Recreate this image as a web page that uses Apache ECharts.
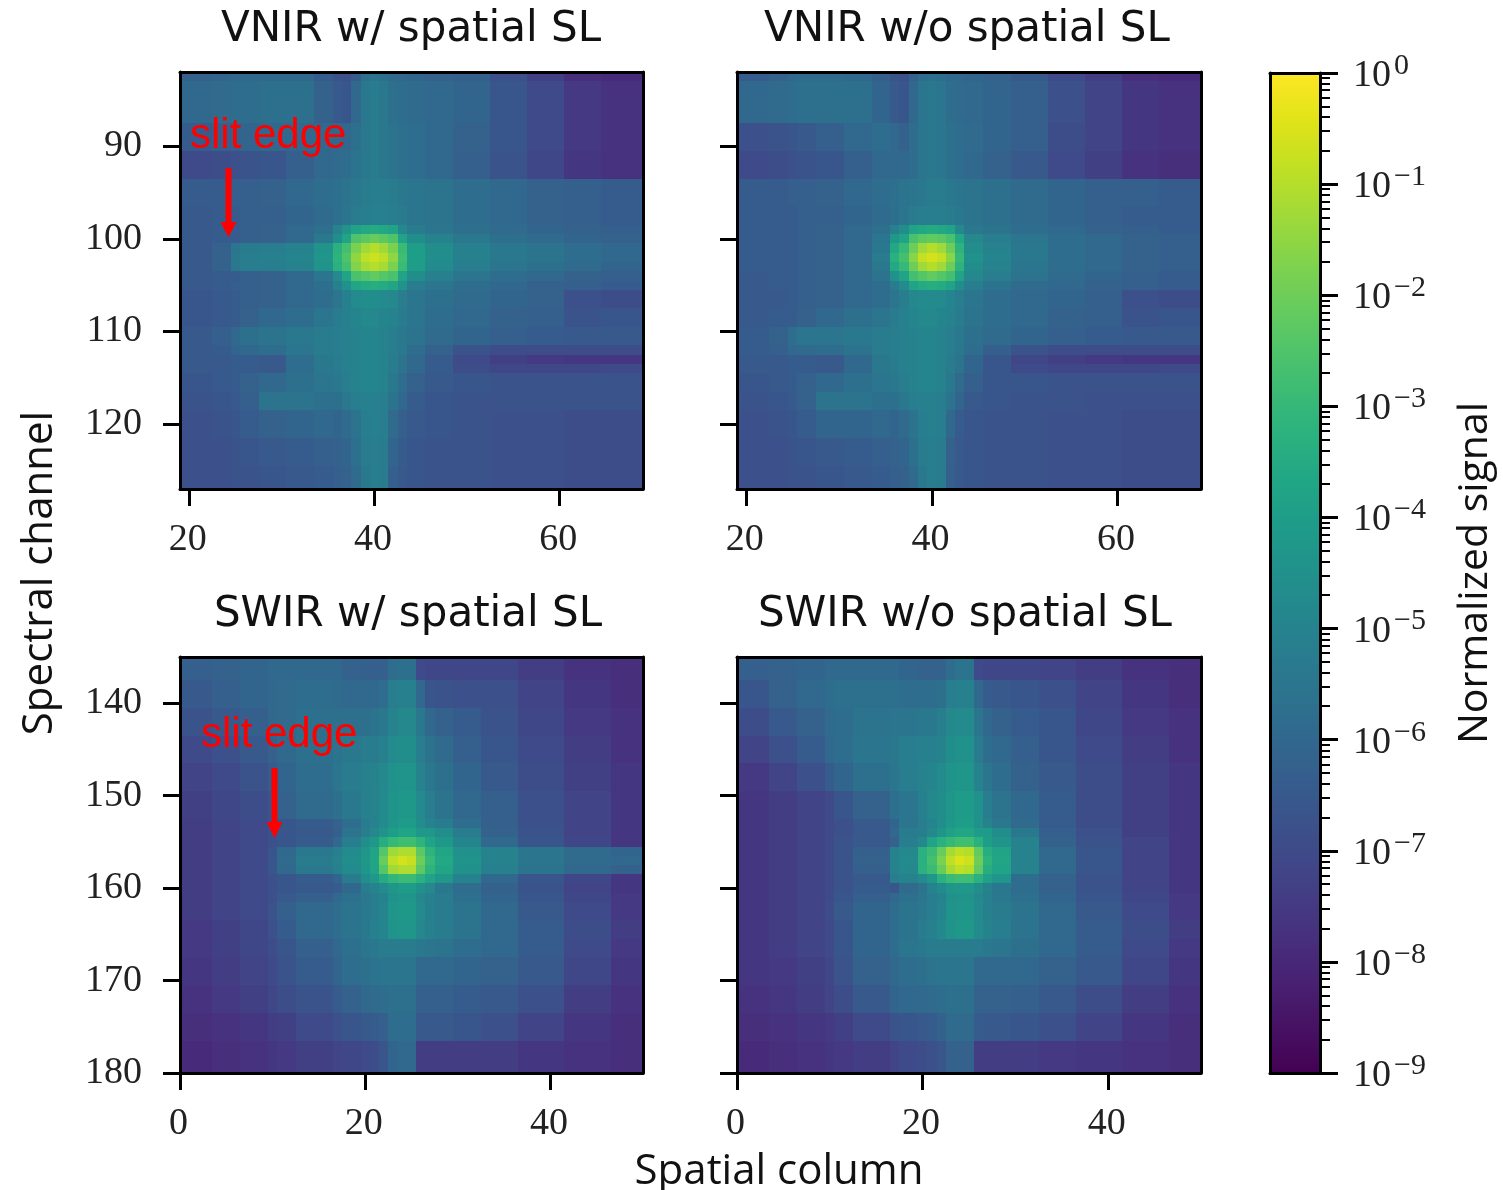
<!DOCTYPE html>
<html><head><meta charset="utf-8">
<style>html,body{margin:0;padding:0;background:#fff}#c{width:1503px;height:1190px}</style>
<script src="https://cdn.jsdelivr.net/npm/echarts@6/dist/echarts.min.js"></script>
</head><body><div id="c"></div>
<script>
// Cell values: minus ten times log10(normalized signal). Blocks span the edges below.
const vnirColEdges=[19,22.5,24.5,25.5,27.5,30.5,33.5,35.5,36.5,37.5,38.5,39.5,40.5,41.5,42.5,43.5,45.5,48.5,52.5,56.5,60.5,64.5,69];
const vnirRowEdges=[82,83,87.5,90.5,93.5,96.5,98.5,99.5,100.5,101.5,102.5,103.5,104.5,105.5,107.5,109.5,111.5,112.5,113.5,114.5,116.5,118.5,121.5,124.5,127];
const swirColEdges=[0,3.5,6.5,9.5,10.5,12.5,16.5,17.5,19.5,20.5,21.5,22.5,23.5,24.5,25.5,26.5,27.5,29.5,32.5,36.5,41.5,46.5,50];
const swirRowEdges=[135,137.5,140.5,143.5,146.5,149.5,152.5,153.5,154.5,155.5,156.5,157.5,158.5,159.5,160.5,161.5,163.5,165.5,167.5,170.5,173.5,176.5,180];

const vnirWith=[
[62,61,60,60,60,60,64,67,68,64,57,56,57,59,60,61,62,63,68,73,78,79],
[60,59,58,58,57,57,62,65,66,60,54,53,54,57,58,59,60,61,66,70,75,77],
[64,63,62,61,60,60,60,60,60,57,54,53,54,56,57,58,60,62,66,70,75,77],
[70,69,68,67,66,63,60,59,58,56,54,53,54,56,57,58,60,63,67,71,76,77],
[64,64,63,63,62,60,58,57,56,54,53,52,52,53,54,55,56,58,60,62,63,64],
[65,64,64,63,63,61,59,57,55,53,52,51,51,52,53,55,56,58,60,62,63,64],
[65,64,64,63,62,60,57,50,44,38,36,35,36,38,48,53,55,57,59,61,62,63],
[65,64,64,63,62,60,54,46,38,25,23,21,23,25,38,46,50,54,57,59,61,62],
[65,62,55,53,52,50,44,33,27,18,13,10,13,18,29,40,46,51,54,56,58,60],
[65,62,54,52,51,49,43,32,25,15,9,7,9,15,28,40,46,51,54,56,58,60],
[65,62,54,52,52,50,44,33,27,17,12,10,12,18,29,40,47,52,55,57,59,61],
[65,64,64,63,62,60,55,47,38,26,24,22,24,26,38,46,51,55,58,60,62,63],
[65,64,63,63,62,60,57,51,45,37,35,34,35,37,44,52,55,58,60,62,63,64],
[66,65,64,63,62,60,58,55,51,47,46,46,47,48,52,55,57,59,61,62,68,69],
[66,65,64,62,60,58,55,53,51,49,48,48,49,50,53,55,58,60,62,63,67,66],
[65,63,60,57,56,54,53,52,51,50,49,49,50,52,54,56,59,61,63,64,65,65],
[65,64,61,60,58,55,53,52,51,50,49,49,50,52,54,58,62,67,69,69,69,69],
[65,65,64,64,65,58,54,53,51,50,49,49,50,53,56,60,64,70,73,75,76,76],
[65,65,64,64,65,58,54,53,51,50,49,49,50,53,56,60,64,69,71,71,71,70],
[66,65,64,62,60,57,55,54,52,50,49,49,50,54,58,62,65,66,67,67,67,67],
[67,66,65,63,56,56,57,57,54,52,51,51,52,56,60,64,66,67,67,67,67,67],
[68,67,66,64,62,61,60,61,59,56,52,51,52,59,63,65,66,67,68,68,69,69],
[68,68,67,66,65,64,63,62,61,57,53,52,53,61,64,66,67,67,68,68,69,69],
[68,68,67,67,66,65,64,63,62,59,54,52,53,63,65,66,67,67,68,68,69,69]];

const vnirWithout=[
[64,62,60,59,59,60,63,67,68,62,58,57,58,60,60,61,62,65,70,74,78,79],
[60,59,58,57,57,57,61,65,66,60,55,54,55,58,59,60,61,63,68,72,76,77],
[68,67,66,65,63,60,58,60,62,58,55,54,55,57,58,59,61,63,69,72,76,77],
[70,69,68,67,66,63,60,60,60,58,55,54,55,57,58,60,62,65,70,73,77,78],
[64,64,63,63,62,60,58,57,56,55,54,53,53,54,55,56,57,59,61,63,63,64],
[64,64,64,63,63,61,59,57,55,53,52,52,52,53,54,56,57,59,61,63,64,64],
[64,64,64,63,62,60,57,51,46,38,36,35,36,38,48,54,56,58,60,62,63,64],
[64,64,64,63,62,60,55,42,38,26,23,22,23,26,36,48,52,55,58,60,62,63],
[64,64,64,63,62,60,54,36,30,20,13,10,13,20,32,46,50,54,58,60,62,63],
[64,64,64,63,62,60,53,33,27,16,8,6,8,16,30,45,49,54,58,60,62,63],
[64,64,64,63,62,60,54,36,30,20,13,10,13,20,32,46,50,55,58,60,62,63],
[65,64,64,63,62,60,56,45,38,27,24,22,24,27,38,48,52,56,59,61,63,64],
[65,64,64,63,62,60,58,53,47,38,35,34,35,38,46,52,56,59,60,62,63,64],
[65,65,64,63,62,60,58,55,52,48,47,47,47,49,52,55,58,60,61,63,68,69],
[65,64,64,62,60,57,55,53,51,49,48,48,49,50,53,56,58,60,62,63,67,66],
[64,62,58,55,55,54,53,52,51,50,49,49,50,52,54,57,59,61,63,64,65,65],
[64,63,60,59,58,56,53,52,51,50,49,49,50,52,54,58,63,67,69,69,69,69],
[65,65,64,64,65,60,54,53,51,50,49,49,50,53,56,61,66,71,73,75,76,76],
[65,65,64,64,65,60,54,53,51,50,49,49,50,53,56,61,66,70,71,71,71,70],
[66,65,64,62,60,57,55,54,52,50,49,49,50,54,59,63,66,66,67,67,67,67],
[67,66,65,62,56,56,57,57,54,52,51,51,52,56,61,65,66,67,67,68,68,68],
[68,67,66,64,61,61,60,61,59,56,52,51,52,60,64,66,67,67,68,68,69,69],
[68,68,67,66,65,64,63,62,61,57,53,52,53,62,65,66,67,67,68,68,69,69],
[68,68,67,67,66,65,64,63,62,59,54,52,53,63,65,66,67,67,68,68,69,69]];

const swirWith=[
[63,62,61,60,60,60,60,62,63,63,63,58,57,57,70,71,71,71,71,74,77,78],
[65,63,61,60,59,58,59,60,60,60,58,52,51,51,60,66,67,68,68,72,76,78],
[67,65,63,60,59,57,57,57,57,56,54,50,48,48,54,60,62,64,67,71,75,77],
[70,68,65,62,60,57,56,54,53,53,51,47,46,46,52,56,59,63,66,70,74,77],
[72,70,67,64,61,58,55,53,51,50,48,45,44,44,50,54,57,61,65,69,73,76],
[73,71,69,66,62,59,57,54,51,50,47,44,42,42,47,52,56,60,63,68,72,76],
[74,72,70,68,66,64,62,58,53,50,47,43,41,41,46,50,53,58,63,68,72,76],
[74,72,70,68,66,65,63,56,52,48,44,40,38,38,42,42,46,53,62,67,72,76],
[74,72,70,68,66,64,60,52,46,42,34,30,28,28,32,38,42,49,60,66,71,76],
[74,72,70,66,60,54,51,47,43,38,24,13,11,11,23,32,37,45,50,55,59,61],
[74,72,70,66,59,53,50,46,42,37,21,9,6,8,20,30,36,44,50,55,59,60],
[74,72,70,66,60,54,51,47,43,38,24,13,11,11,23,32,37,45,51,56,60,62],
[74,72,70,68,66,64,61,53,46,42,35,31,29,29,33,38,42,50,60,66,71,76],
[74,72,70,68,66,65,64,60,53,50,47,43,41,41,45,48,54,58,62,67,72,76],
[74,72,70,68,65,63,60,57,54,52,50,45,43,43,48,51,53,57,61,66,71,75],
[74,72,70,67,63,60,58,56,54,52,49,43,42,42,47,51,53,56,60,65,70,75],
[75,73,71,68,64,60,58,56,54,51,49,44,43,43,48,51,53,56,60,64,69,74],
[75,73,71,69,66,63,60,57,55,54,53,53,53,53,54,55,56,58,60,64,70,75],
[76,74,72,70,67,64,61,58,57,56,55,55,55,55,60,60,60,61,62,65,71,76],
[77,75,73,71,69,67,64,62,60,59,58,57,57,57,63,63,63,64,65,68,74,77],
[78,77,76,74,73,70,68,66,65,64,63,58,58,58,65,65,65,66,68,72,76,78],
[79,78,77,76,75,73,72,71,70,69,66,61,60,60,74,74,74,74,74,76,77,78]];

const swirWithout=[
[63,62,61,60,60,60,60,61,62,62,62,58,56,56,70,71,71,71,72,74,77,78],
[66,62,60,58,57,57,57,58,58,58,57,52,51,51,60,64,65,66,68,72,76,78],
[69,65,62,59,58,56,55,55,54,54,52,48,47,47,55,60,62,64,66,71,75,77],
[72,68,64,60,58,55,54,52,51,51,50,46,45,45,53,58,60,63,66,70,74,77],
[75,72,68,64,61,57,55,52,50,49,47,44,43,43,50,55,58,62,65,69,73,76],
[76,74,72,70,66,62,57,55,51,48,46,43,41,41,45,52,56,60,64,69,73,76],
[76,74,72,70,68,65,61,55,52,49,46,42,40,40,45,50,54,59,64,69,73,76],
[76,74,72,70,68,65,60,53,52,48,43,39,37,37,41,41,46,54,63,68,73,76],
[76,74,72,70,67,65,62,52,48,38,33,30,28,28,33,40,44,50,62,67,72,76],
[76,74,72,70,67,63,50,48,33,29,21,12,9,10,22,34,38,50,60,66,72,76],
[76,74,72,70,67,62,50,47,33,27,18,9,5,7,20,32,37,50,60,66,72,76],
[76,74,72,70,67,63,50,48,33,29,21,12,9,10,22,34,38,50,60,66,72,76],
[76,74,72,70,67,65,52,50,47,42,33,29,28,28,33,39,43,58,62,67,72,76],
[76,74,72,70,67,64,66,59,56,50,47,43,42,42,46,50,54,58,62,67,72,76],
[76,74,72,70,66,63,60,57,55,52,50,45,44,44,48,51,54,57,61,66,71,75],
[76,74,72,69,65,61,58,56,54,52,49,44,43,43,47,51,53,56,60,65,70,75],
[76,74,72,70,66,61,58,56,53,51,48,44,42,42,47,50,52,56,60,64,69,74],
[76,74,72,70,66,61,58,55,54,53,53,53,53,53,53,54,55,57,60,64,70,75],
[76,75,73,71,67,62,60,58,57,56,55,55,55,55,60,60,60,60,62,65,71,76],
[77,76,74,72,69,65,61,60,60,59,58,57,57,57,62,62,62,63,65,69,74,77],
[78,77,76,75,73,70,67,66,65,64,62,59,59,59,64,65,65,66,68,72,76,78],
[79,78,77,76,75,74,72,70,69,68,66,62,62,62,74,74,74,74,75,76,77,78]];

const panelTitles=['VNIR w/ spatial SL','VNIR w/o spatial SL','SWIR w/ spatial SL','SWIR w/o spatial SL'];
const vnirXTicks=[20,40,60], vnirYTicks=[90,100,110,120];
const swirXTicks=[0,20,40], swirYTicks=[140,150,160,170,180];
const colorbarDecades=[-9,-8,-7,-6,-5,-4,-3,-2,-1,0];
const minorMantissas=[2,3,4,5,6,7,8,9];
const viridis=['#440154','#471365','#482475','#463480','#414487','#3b528b','#355f8d','#2f6c8e','#2a788e','#25848e','#21918c','#1e9c89','#22a884','#2fb47c','#44bf70','#5ec962','#7ad151','#9bd93c','#bddf26','#dfe318','#fde725'];

const sansFont='"Open Sans"', titleFont='"DejaVu Sans"', serifFont='"Liberation Serif"';
const labelStyle={fontFamily:serifFont,fontSize:38,color:'#222'};
const lineStyle={color:'#000',width:3};

const panels=[
 {m:vnirWith,xe:vnirColEdges,ye:vnirRowEdges,xt:vnirXTicks,yt:vnirYTicks,left:180,top:72,w:463,h:417,yl:true,tx:411,ty:30},
 {m:vnirWithout,xe:vnirColEdges,ye:vnirRowEdges,xt:vnirXTicks,yt:vnirYTicks,left:737,top:72,w:464,h:417,yl:false,tx:967,ty:30},
 {m:swirWith,xe:swirColEdges,ye:swirRowEdges,xt:swirXTicks,yt:swirYTicks,left:180,top:657,w:463,h:416,yl:true,tx:408,ty:615},
 {m:swirWithout,xe:swirColEdges,ye:swirRowEdges,xt:swirXTicks,yt:swirYTicks,left:737,top:657,w:464,h:416,yl:false,tx:965,ty:615}
];

function cells(p){
  const out=[];
  p.m.forEach((row,r)=>row.forEach((n,c)=>out.push([p.xe[c],p.xe[c+1],p.ye[r],p.ye[r+1],-n/10])));
  return out;
}
function renderCell(params,api){
  const a=api.coord([api.value(0),api.value(2)]), b=api.coord([api.value(1),api.value(3)]);
  const x0=Math.round(a[0]),y0=Math.round(a[1]),x1=Math.round(b[0]),y1=Math.round(b[1]);
  return {type:'rect',shape:{x:x0,y:y0,width:x1-x0,height:y1-y0},style:{fill:api.visual('color')}};
}

const grid=[],xAxis=[],yAxis=[],series=[],title=[];
panels.forEach((p,i)=>{
  grid.push({left:p.left,top:p.top,width:p.w,height:p.h,outerBoundsMode:'none'});
  const xr=[p.xe[0],p.xe[p.xe.length-1]], yr=[p.ye[0],p.ye[p.ye.length-1]];
  const xi=xAxis.length, yi=yAxis.length;
  xAxis.push({type:'value',gridIndex:i,position:'bottom',min:xr[0],max:xr[1],z:5,splitLine:{show:false},
    axisLine:{show:true,onZero:false,lineStyle},
    axisTick:{show:true,length:17,lineStyle,customValues:p.xt},
    axisLabel:{...labelStyle,margin:32,padding:[0,3,0,0],customValues:p.xt}});
  xAxis.push({type:'value',gridIndex:i,position:'top',min:xr[0],max:xr[1],z:5,splitLine:{show:false},
    axisLine:{show:true,onZero:false,lineStyle},axisTick:{show:false},axisLabel:{show:false}});
  yAxis.push({type:'value',gridIndex:i,position:'left',inverse:true,min:yr[0],max:yr[1],z:5,splitLine:{show:false},
    axisLine:{show:true,onZero:false,lineStyle},
    axisTick:{show:true,length:17,lineStyle,customValues:p.yt},
    axisLabel:{...labelStyle,show:p.yl,margin:38,padding:[8,0,0,0],customValues:p.yt}});
  yAxis.push({type:'value',gridIndex:i,position:'right',inverse:true,min:yr[0],max:yr[1],z:5,splitLine:{show:false},
    axisLine:{show:true,onZero:false,lineStyle},axisTick:{show:false},axisLabel:{show:false}});
  series.push({type:'custom',xAxisIndex:xi,yAxisIndex:yi,renderItem:renderCell,silent:true,z:2,
    encode:{x:[0,1],y:[2,3]},dimensions:['x0','x1','y0','y1','log10signal'],data:cells(p)});
  title.push({text:panelTitles[i],left:p.tx,top:p.ty,textAlign:'center',textVerticalAlign:'middle',padding:0,
    textStyle:{fontFamily:titleFont,fontWeight:'normal',fontSize:42,color:'#111'}});
});

// Colorbar: frame, minor ticks and major ticks each live on their own overlapping grid.
const minorTicks=[];
colorbarDecades.slice(0,-1).forEach(d=>minorMantissas.forEach(m=>minorTicks.push(d+Math.log10(m))));
const cbBox={left:1270,top:73,width:50,height:1000,outerBoundsMode:'none'};
const cbY={type:'value',min:-9,max:0,z:5,splitLine:{show:false}};
const hiddenX=g=>({type:'value',gridIndex:g,min:0,max:1,show:false});
const frame=grid.length;
grid.push({...cbBox});
['bottom','top'].forEach(pos=>xAxis.push({type:'value',gridIndex:frame,position:pos,min:0,max:1,z:5,splitLine:{show:false},
  axisLine:{show:true,onZero:false,lineStyle},axisTick:{show:false},axisLabel:{show:false}}));
['left','right'].forEach(pos=>yAxis.push({...cbY,gridIndex:frame,position:pos,
  axisLine:{show:true,onZero:false,lineStyle},axisTick:{show:false},axisLabel:{show:false}}));
const minorGrid=grid.length;
grid.push({...cbBox});
xAxis.push(hiddenX(minorGrid));
yAxis.push({...cbY,gridIndex:minorGrid,position:'right',axisLine:{show:false,onZero:false},axisLabel:{show:false},
  axisTick:{show:true,length:10,lineStyle:{color:'#000',width:2},customValues:minorTicks}});
const majorGrid=grid.length;
grid.push({...cbBox});
xAxis.push(hiddenX(majorGrid));
yAxis.push({...cbY,gridIndex:majorGrid,position:'right',axisLine:{show:false,onZero:false},
  axisTick:{show:true,length:18,lineStyle,customValues:colorbarDecades},
  name:'Normalized signal',nameLocation:'middle',nameRotate:90,nameGap:135,
  nameTextStyle:{fontFamily:sansFont,fontSize:41,color:'#111'},
  axisLabel:{margin:33,align:'left',customValues:colorbarDecades,
    formatter:v=>v===0?'{b|10}{e|0}':'{b|10}{e|\u2212'+Math.abs(v)+'}',
    rich:{b:{fontFamily:serifFont,fontSize:38,color:'#222',padding:[6,0,0,0]},e:{fontFamily:serifFont,fontSize:30,color:'#222',padding:[0,0,14,3]}}}});

function arrow(x,y0,yBase,yTip){
  return [
   {type:'line',z:100,shape:{x1:x,y1:y0,x2:x,y2:yBase},style:{stroke:'#ff0000',lineWidth:6}},
   {type:'polygon',z:100,shape:{points:[[x-8,yBase],[x+8,yBase],[x,yTip]]},style:{fill:'#ff0000'}}
  ];
}
function note(x,y){return {type:'text',z:100,x,y,style:{text:'slit edge',fill:'#ff0000',fontFamily:'"Liberation Sans"',fontSize:42,verticalAlign:'middle'}};}

const chart=echarts.init(document.getElementById('c'),null,{renderer:'canvas'});
chart.setOption({
  animation:false,backgroundColor:'#fff',title,grid,xAxis,yAxis,series,
  visualMap:{type:'continuous',min:-9,max:0,dimension:4,seriesIndex:[0,1,2,3],left:1270,top:73,padding:0,
    itemWidth:50,itemHeight:1000,calculable:false,hoverLink:false,text:null,showLabel:false,inRange:{color:viridis}},
  graphic:[
    note(190,136),note(201,735),
    ...arrow(228.5,168,222,237),...arrow(274.5,768,822,838),
    {type:'text',z:100,x:40,y:573,rotation:Math.PI/2,style:{text:'Spectral channel',fontFamily:sansFont,fontSize:42,fill:'#111',align:'center',verticalAlign:'middle'}},
    {type:'text',z:100,x:779,y:1172,style:{text:'Spatial column',fontFamily:sansFont,fontSize:42,fill:'#111',align:'center',verticalAlign:'middle'}}
  ]
});
</script></body></html>
